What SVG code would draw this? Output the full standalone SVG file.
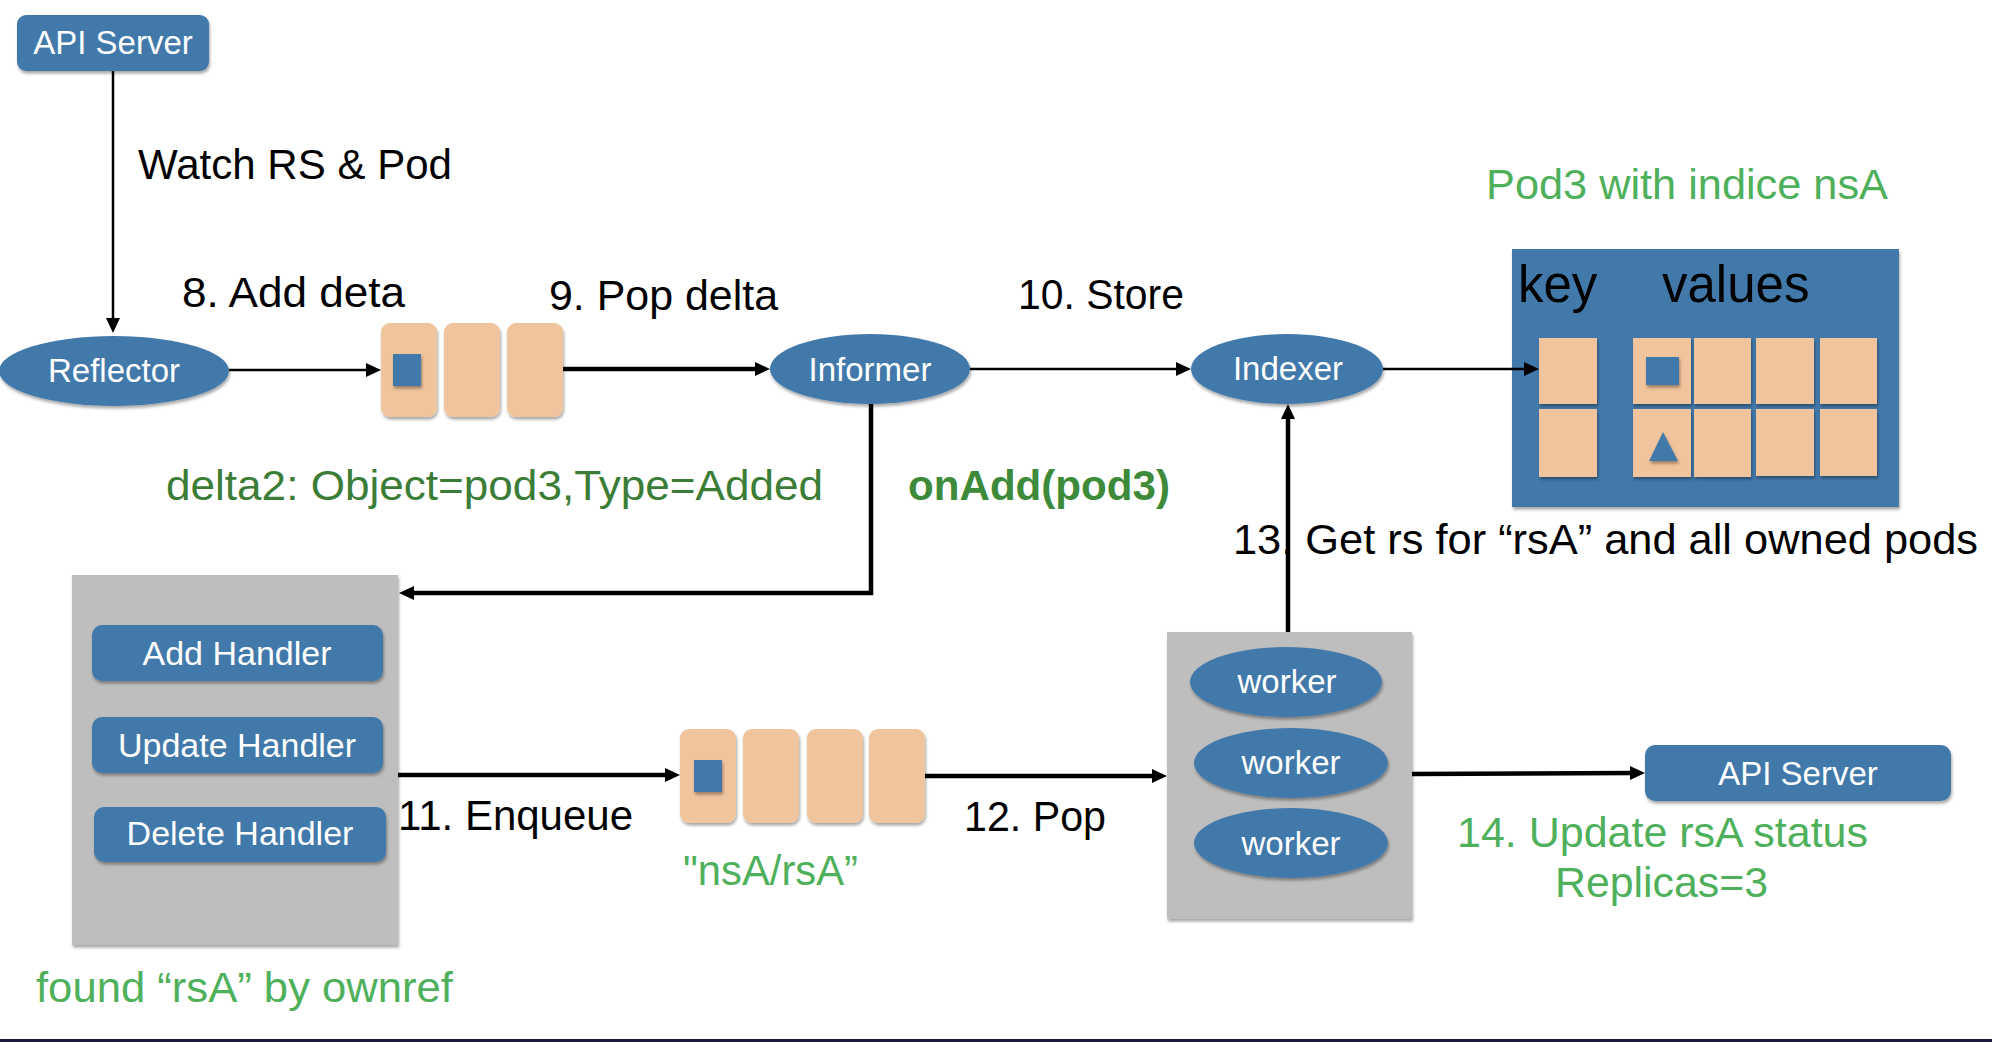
<svg xmlns="http://www.w3.org/2000/svg" width="1992" height="1042" viewBox="0 0 1992 1042">
<defs>
<style>
.blue{fill:#4379ab}
.peach{fill:#f0c49c}
.grey{fill:#bebebe}
.lbl{font-family:"Liberation Sans",Arial,sans-serif;fill:#ffffff;text-anchor:middle}
.txt{font-family:"Liberation Sans",Arial,sans-serif;fill:#000000;font-size:42px}
.g1{font-family:"Liberation Sans",Arial,sans-serif;fill:#4fb05c;font-size:42px}
.g2{font-family:"Liberation Sans",Arial,sans-serif;fill:#3b7d36;font-size:42px}
.thin{stroke:#000;stroke-width:2.5;fill:none}
.thick{stroke:#000;stroke-width:4.5;fill:none}
</style>
<filter id="sh" x="-10%" y="-10%" width="125%" height="130%">
<feDropShadow dx="1" dy="2.5" stdDeviation="1.5" flood-color="#000" flood-opacity="0.35"/>
</filter>
<marker id="ah" markerUnits="userSpaceOnUse" markerWidth="16" markerHeight="14" refX="3" refY="7" orient="auto">
<path d="M0,0 L15,7 L0,14 z" fill="#000"/>
</marker>
</defs>
<rect width="1992" height="1042" fill="#ffffff"/>
<rect x="0" y="1039" width="1992" height="3" fill="#1a1a3a"/>

<g id="api-server-top">
<rect class="blue" x="17" y="15" width="192" height="56" rx="9" filter="url(#sh)"/>
<text class="lbl" x="113" y="54" font-size="33">API Server</text>
</g>

<g id="reflector">
<ellipse class="blue" cx="114" cy="371" rx="115" ry="35" filter="url(#sh)"/>
<text class="lbl" x="114" y="382" font-size="33">Reflector</text>
</g>

<g id="delta-fifo">
<rect class="peach" x="381" y="323" width="56" height="94" rx="9" filter="url(#sh)"/>
<rect class="peach" x="444" y="323" width="56" height="94" rx="9" filter="url(#sh)"/>
<rect class="peach" x="507" y="323" width="56" height="94" rx="9" filter="url(#sh)"/>
<rect class="blue" x="393" y="354" width="28" height="32" filter="url(#sh)"/>
</g>

<g id="informer">
<ellipse class="blue" cx="870" cy="369" rx="100" ry="35" filter="url(#sh)"/>
<text class="lbl" x="870" y="381" font-size="33">Informer</text>
</g>

<g id="indexer">
<ellipse class="blue" cx="1287" cy="369" rx="96" ry="35" filter="url(#sh)"/>
<text class="lbl" x="1288" y="380" font-size="33">Indexer</text>
</g>

<g id="index-store">
<rect class="blue" x="1512" y="249" width="387" height="258" filter="url(#sh)"/>
<text class="txt" x="1518" y="302" style="font-size:51px">key</text>
<text class="txt" x="1662" y="302" style="font-size:51px">values</text>
<rect class="peach" x="1539" y="338" width="58" height="66" filter="url(#sh)"/>
<rect class="peach" x="1539" y="409" width="58" height="68" filter="url(#sh)"/>
<rect class="peach" x="1633" y="338" width="58" height="66" filter="url(#sh)"/>
<rect class="peach" x="1694" y="338" width="57" height="66" filter="url(#sh)"/>
<rect class="peach" x="1756" y="338" width="58" height="66" filter="url(#sh)"/>
<rect class="peach" x="1820" y="338" width="57" height="66" filter="url(#sh)"/>
<rect class="peach" x="1633" y="409" width="58" height="68" filter="url(#sh)"/>
<rect class="peach" x="1694" y="409" width="57" height="68" filter="url(#sh)"/>
<rect class="peach" x="1756" y="409" width="58" height="67" filter="url(#sh)"/>
<rect class="peach" x="1820" y="409" width="57" height="67" filter="url(#sh)"/>
<rect class="blue" x="1646" y="357" width="33" height="28" filter="url(#sh)"/>
<polygon class="blue" points="1663,432 1678,461 1649,461" filter="url(#sh)"/>
</g>

<g id="handlers">
<rect class="grey" x="72" y="575" width="326" height="370" filter="url(#sh)"/>
<rect class="blue" x="92" y="625" width="291" height="56" rx="10" filter="url(#sh)"/>
<text class="lbl" x="237" y="665" font-size="34">Add Handler</text>
<rect class="blue" x="92" y="717" width="291" height="56" rx="10" filter="url(#sh)"/>
<text class="lbl" x="237" y="757" font-size="34">Update Handler</text>
<rect class="blue" x="94" y="807" width="292" height="55" rx="10" filter="url(#sh)"/>
<text class="lbl" x="240" y="845" font-size="34">Delete Handler</text>
</g>

<g id="workqueue">
<rect class="peach" x="680" y="729" width="56" height="94" rx="9" filter="url(#sh)"/>
<rect class="peach" x="743" y="729" width="56" height="94" rx="9" filter="url(#sh)"/>
<rect class="peach" x="807" y="729" width="56" height="94" rx="9" filter="url(#sh)"/>
<rect class="peach" x="869" y="729" width="56" height="94" rx="9" filter="url(#sh)"/>
<rect class="blue" x="694" y="760" width="28" height="32" filter="url(#sh)"/>
</g>

<g id="workers">
<rect class="grey" x="1167" y="632" width="245" height="287" filter="url(#sh)"/>
<ellipse class="blue" cx="1286" cy="682" rx="96" ry="35" filter="url(#sh)"/>
<text class="lbl" x="1287" y="693" font-size="33">worker</text>
<ellipse class="blue" cx="1291" cy="763" rx="97" ry="35" filter="url(#sh)"/>
<text class="lbl" x="1291" y="774" font-size="33">worker</text>
<ellipse class="blue" cx="1291" cy="843" rx="97" ry="35" filter="url(#sh)"/>
<text class="lbl" x="1291" y="855" font-size="33">worker</text>
</g>

<g id="api-server-bottom">
<rect class="blue" x="1645" y="745" width="306" height="56" rx="10" filter="url(#sh)"/>
<text class="lbl" x="1798" y="785" font-size="33">API Server</text>
</g>

<g id="connectors">
<line class="thin" x1="113" y1="71" x2="113" y2="321" marker-end="url(#ah)"/>
<line class="thin" x1="229" y1="370" x2="369" y2="370" marker-end="url(#ah)"/>
<line class="thick" x1="563" y1="369" x2="758" y2="369" marker-end="url(#ah)"/>
<line class="thin" x1="970" y1="369" x2="1179" y2="369" marker-end="url(#ah)"/>
<line class="thin" x1="1383" y1="369" x2="1527" y2="369" marker-end="url(#ah)"/>
<path class="thick" d="M871,404 V593 H411" marker-end="url(#ah)"/>
<line class="thick" x1="398" y1="775" x2="668" y2="775" marker-end="url(#ah)"/>
<line class="thick" x1="925" y1="776" x2="1155" y2="776" marker-end="url(#ah)"/>
<line class="thick" x1="1412" y1="774" x2="1633" y2="773" marker-end="url(#ah)"/>
<line class="thick" x1="1288" y1="632" x2="1288" y2="416" marker-end="url(#ah)"/>
</g>

<g id="labels">
<text class="txt" x="138" y="179" textLength="314" lengthAdjust="spacingAndGlyphs">Watch RS &amp; Pod</text>
<text class="txt" x="182" y="307" textLength="223" lengthAdjust="spacingAndGlyphs">8. Add deta</text>
<text class="txt" x="549" y="310" textLength="229" lengthAdjust="spacingAndGlyphs">9. Pop delta</text>
<text class="txt" x="1018" y="309" textLength="166" lengthAdjust="spacingAndGlyphs">10. Store</text>
<text class="g1" x="1486" y="199" textLength="402" lengthAdjust="spacingAndGlyphs">Pod3 with indice nsA</text>
<text class="g2" x="166" y="500" textLength="657" lengthAdjust="spacingAndGlyphs">delta2: Object=pod3,Type=Added</text>
<text class="g2" x="908" y="500" style="font-weight:bold;fill:#3d8b3a" textLength="262" lengthAdjust="spacingAndGlyphs">onAdd(pod3)</text>
<text class="txt" x="1233" y="554" textLength="745" lengthAdjust="spacingAndGlyphs">13. Get rs for “rsA” and all owned pods</text>
<text class="txt" x="398" y="830" textLength="235" lengthAdjust="spacingAndGlyphs">11. Enqueue</text>
<text class="txt" x="964" y="831" textLength="142" lengthAdjust="spacingAndGlyphs">12. Pop</text>
<text class="g1" x="683" y="885" textLength="175" lengthAdjust="spacingAndGlyphs">"nsA/rsA”</text>
<text class="g1" x="1457" y="847" textLength="411" lengthAdjust="spacingAndGlyphs">14. Update rsA status</text>
<text class="g1" x="1555" y="897" textLength="213" lengthAdjust="spacingAndGlyphs">Replicas=3</text>
<text class="g1" x="36" y="1002" textLength="417" lengthAdjust="spacingAndGlyphs">found “rsA” by ownref</text>
</g>
</svg>
